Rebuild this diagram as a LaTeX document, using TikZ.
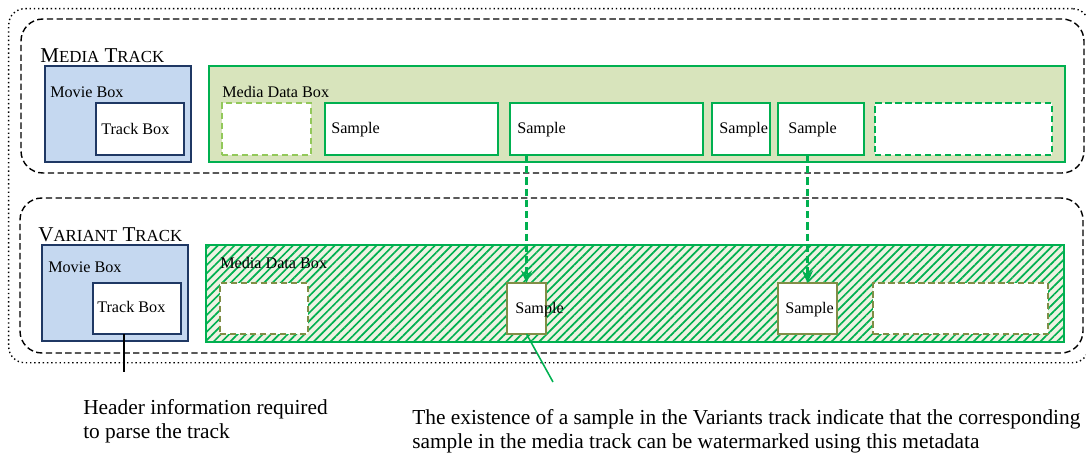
\documentclass[tikz,border=0pt]{standalone}
\usepackage{fontspec}
\setmainfont{Liberation Serif}
\usetikzlibrary{arrows.meta, patterns.meta, positioning, calc}

% fake small caps for the track titles
\newcommand{\bigsc}[2]{{\fontsize{15}{18}\selectfont #1}{\fontsize{12}{14}\selectfont #2}}

\begin{document}
\begin{tikzpicture}[x=1cm, y=-1cm,
  % ---- styles ----
  trackbox/.style={%
    draw=black, line width=1pt, dash pattern=on 4.5pt off 2.4pt,
    rounded corners=0.55cm, anchor=north west, inner sep=0pt, outer sep=0pt,
  },
  movie/.style={%
    draw=Navy, fill=MovieBlue, line width=1.3pt, anchor=north west,
    inner sep=0pt, outer sep=0pt,
  },
  trak/.style={%
    draw=Navy, fill=white, line width=1.3pt, anchor=north west,
    inner sep=0pt, outer sep=0pt,
  },
  mdat/.style={%
    draw=BoxGreen, line width=1.1pt, anchor=north west,
    inner sep=0pt, outer sep=0pt,
  },
  sample/.style={%
    draw=#1, fill=white, line width=1.3pt, anchor=north west,
    inner sep=0pt, outer sep=0pt,
  },
  gapbox/.style={%
    sample=#1, dash pattern=on 4.5pt off 2.6pt,
  },
  lbl/.style={font=\fontsize{11.5}{13}\selectfont, anchor=base west, inner sep=0pt},
  note/.style={font=\fontsize{15.2}{17}\selectfont, anchor=base west,
    inner sep=0pt, align=left},
  link/.style={draw=BoxGreen, line width=1.5pt, dash pattern=on 5pt off 3pt,
    -{Stealth[length=9pt, width=8pt, inset=3pt]}},
]

% ---- colour palette ----
\definecolor{Navy}{RGB}{31,56,100}
\definecolor{MovieBlue}{RGB}{197,216,240}
\definecolor{BoxGreen}{RGB}{0,176,80}
\definecolor{DataGreen}{RGB}{216,228,188}
\definecolor{LightGreen}{RGB}{146,200,90}
\definecolor{Olive}{RGB}{128,142,70}
\definecolor{Cream}{RGB}{238,242,226}

\useasboundingbox (0,0) rectangle (27.15,11.375);

% =========================================================
% containers
% =========================================================
\node[draw=black, line width=1pt, dotted, rounded corners=0.4cm,
  anchor=north west, inner sep=0pt, minimum width=27.0cm, minimum height=8.85cm]
  (outer) at (0.2,0.2) {};
\node[trackbox, minimum width=26.575cm, minimum height=3.85cm]
  (mtrack) at (0.525,0.475) {};
\node[trackbox, minimum width=26.575cm, minimum height=3.875cm]
  (vtrack) at (0.5,4.95) {};

% =========================================================
% media track
% =========================================================
\node[anchor=base west, inner sep=0pt, font=\fontsize{15}{18}\selectfont]
  (mtitle) at (1.0,1.565) {\bigsc{M}{EDIA} \bigsc{T}{RACK}};

\node[movie, minimum width=3.65cm, minimum height=2.4cm]  (mmoov) at (1.125,1.65) {};
\node[trak,  minimum width=2.2cm,  minimum height=1.3cm]  (mtrak) at (2.4,2.575) {};
\node[mdat, fill=DataGreen, minimum width=21.4cm, minimum height=2.4cm]
  (mmdat) at (5.225,1.65) {};

\node[gapbox=LightGreen, minimum width=2.225cm, minimum height=1.3cm] (mgap1) at (5.55,2.575) {};
\node[sample=BoxGreen,   minimum width=4.325cm, minimum height=1.3cm] (ms1)   at (8.125,2.575) {};
\node[sample=BoxGreen,   minimum width=4.825cm, minimum height=1.3cm] (ms2)   at (12.75,2.575) {};
\node[sample=BoxGreen,   minimum width=1.45cm,  minimum height=1.3cm] (ms3)   at (17.8,2.575) {};
\node[sample=BoxGreen,   minimum width=2.15cm,  minimum height=1.3cm] (ms4)   at (19.45,2.575) {};
\node[gapbox=BoxGreen,   minimum width=4.425cm, minimum height=1.3cm] (mgap2) at (21.875,2.575) {};

\node[lbl] (mmoovlbl) at (1.25,2.44)  {Movie Box};
\node[lbl] (mtraklbl) at (2.525,3.36) {Track Box};
\node[lbl] (mmdatlbl) at (5.55,2.43)  {Media Data Box};
\node[lbl] (ms1lbl)   at (8.275,3.35) {Sample};
\node[lbl] (ms2lbl)   at (12.925,3.35) {Sample};
\node[lbl] (ms3lbl)   at (17.98,3.35) {Sample};
\node[lbl] (ms4lbl)   at (19.7,3.35)  {Sample};

% =========================================================
% variant track
% =========================================================
\node[anchor=base west, inner sep=0pt, font=\fontsize{15}{18}\selectfont]
  (vtitle) at (0.95,6.04) {\bigsc{V}{ARIANT} \bigsc{T}{RACK}};

\node[movie, minimum width=3.65cm, minimum height=2.4cm]   (vmoov) at (1.05,6.125) {};
\node[trak,  minimum width=2.2cm,  minimum height=1.275cm] (vtrak) at (2.325,7.075) {};
\node[mdat, preaction={fill=Cream},
  pattern={Lines[angle=45, distance=4.2pt, line width=1.2pt]}, pattern color=BoxGreen,
  minimum width=21.45cm, minimum height=2.425cm]
  (vmdat) at (5.15,6.125) {};

\node[gapbox=Olive, minimum width=2.2cm,   minimum height=1.275cm] (vgap1) at (5.5,7.075) {};
\node[sample=Olive, minimum width=0.975cm, minimum height=1.275cm] (vs1)   at (12.675,7.075) {};
\node[sample=Olive, minimum width=1.475cm, minimum height=1.275cm] (vs2)   at (19.45,7.075) {};
\node[gapbox=Olive, minimum width=4.375cm, minimum height=1.275cm] (vgap2) at (21.825,7.075) {};

\node[lbl] (vmoovlbl) at (1.2,6.82)   {Movie Box};
\node[lbl] (vtraklbl) at (2.425,7.8)  {Track Box};
\node[lbl] (vmdatlbl) at (5.5,6.7)    {Media Data Box};
\node[lbl] (vs1lbl)   at (12.875,7.83) {Sample};
\node[lbl] (vs2lbl)   at (19.625,7.83) {Sample};

% =========================================================
% links between the tracks
% =========================================================
\draw[link] (vs1.north |- ms2.south) -- (vs1.north);
\draw[link] (vs2.north |- ms4.south) -- (vs2.north);

% =========================================================
% call-outs
% =========================================================
\coordinate (hdrend)  at (3.1,9.3);
\coordinate (noteend) at (13.825,9.55);
\draw[line width=1pt] (hdrend |- vtrak.south) -- (hdrend);
\draw[BoxGreen, line width=1.1pt] (vs1.south) -- (noteend);

% base anchor sits on the last line
\node[note] (hdrnote) at (2.075,10.95)
  {Header information required\\to parse the track};
\node[note] (varnote) at (10.3,11.2)
  {The existence of a sample in the Variants track indicate that the corresponding\\sample in the media track can be watermarked using this metadata};

\end{tikzpicture}
\end{document}
